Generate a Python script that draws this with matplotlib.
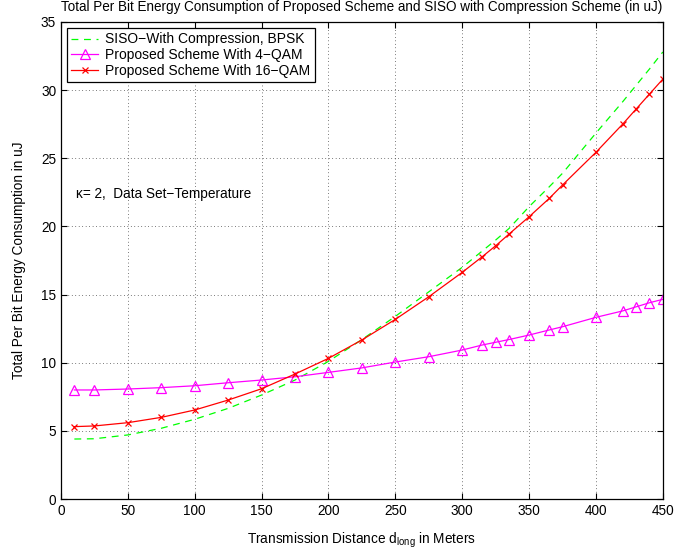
import matplotlib

matplotlib.use("Agg")
import matplotlib.pyplot as plt

plt.rcParams["font.family"] = ["Liberation Sans", "DejaVu Sans"]
plt.rcParams["mathtext.fontset"] = "custom"
plt.rcParams["mathtext.rm"] = "Liberation Sans"
plt.rcParams["mathtext.it"] = "Liberation Sans"

FS = 9.8

# transmission distance (m)
dist = [10, 25, 50, 75, 100, 125, 150, 175, 200, 225, 250, 275, 300, 315, 325,
        335, 350, 365, 375, 400, 420, 430, 440, 450]

siso_bpsk = [4.40, 4.42, 4.70, 5.19, 5.85, 6.65, 7.63, 8.73, 10.10, 11.70, 13.40,
             15.20, 17.00, 18.20, 19.00, 19.85, 21.45, 22.90, 23.90, 26.85, 29.15,
             30.35, 31.55, 32.80]

prop_4qam = [8.00, 8.00, 8.07, 8.17, 8.31, 8.53, 8.73, 8.97, 9.29, 9.62, 10.05,
             10.44, 10.93, 11.30, 11.50, 11.70, 12.03, 12.40, 12.64, 13.33, 13.80,
             14.10, 14.40, 14.65]

prop_16qam = [5.31, 5.36, 5.60, 5.99, 6.53, 7.26, 8.09, 9.17, 10.32, 11.67, 13.18,
              14.84, 16.63, 17.78, 18.58, 19.44, 20.71, 22.05, 23.04, 25.44, 27.51,
              28.61, 29.71, 30.81]

fig = plt.figure(figsize=(6.97, 5.55), dpi=100)
ax = fig.add_axes([0.0875, 0.1009, 0.8635, 0.8595])

ax.plot(dist, siso_bpsk, "--", color="#00ff00", lw=0.9, dashes=(5.5, 4.5),
        label="SISO−With Compression, BPSK")
ax.plot(dist, prop_4qam, "-^", color="#ff00ff", lw=0.9, ms=7, mfc="none",
        mec="#ff00ff", mew=0.9, label="Proposed Scheme With 4−QAM")
ax.plot(dist, prop_16qam, "-x", color="#ff0000", lw=0.9, ms=5, mew=0.9,
        label="Proposed Scheme With 16−QAM")

ax.set_xlim(0, 450)
ax.set_ylim(0, 35)
ax.set_xticks(range(0, 451, 50))
ax.set_yticks(range(0, 36, 5))
ax.tick_params(direction="in", top=True, right=True, labelsize=FS, length=4)
ax.grid(True, color="black", ls=(0, (1, 4)), lw=0.5)
for sp in ax.spines.values():
    sp.set_linewidth(0.9)

ax.set_xlabel(r"Transmission Distance d$_{\mathregular{long}}$ in Meters", fontsize=FS,
              labelpad=9)
ax.set_ylabel("Total Per Bit Energy Consumption in uJ", fontsize=FS, labelpad=11)
ax.set_title("Total Per Bit Energy Consumption of Proposed Scheme and SISO with "
             "Compression Scheme (in uJ)", fontsize=9.75, pad=8)

ax.text(11, 22.35, "κ= 2,  Data Set−Temperature", fontsize=FS, va="center")

leg = ax.legend(loc="upper left", fontsize=10, fancybox=False, framealpha=1,
                edgecolor="black", borderpad=0.3, labelspacing=0.12,
                handlelength=1.9, handletextpad=0.55, borderaxespad=0.45)
leg.get_frame().set_linewidth(0.9)

fig.savefig("out.png", dpi=100)
